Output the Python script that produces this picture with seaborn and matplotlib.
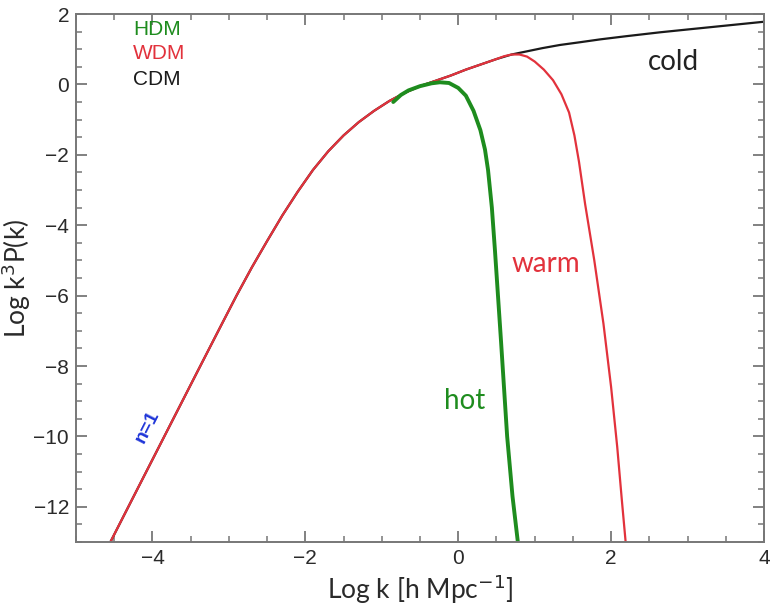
import numpy as np
import pandas as pd
import matplotlib
matplotlib.use("Agg")
import matplotlib.pyplot as plt
from matplotlib.ticker import MultipleLocator
import seaborn as sns

# Log k [h/Mpc] and Log k^3 P(k) for the three dark-matter models
cdm_logk = [-4.55, -4.2, -3.8, -3.4, -3.1, -2.9, -2.7, -2.5, -2.3, -2.1, -1.9,
            -1.7, -1.5, -1.3, -1.1, -0.9, -0.7, -0.5, -0.3, -0.1, 0.1, 0.3,
            0.5, 0.7, 0.9, 1.1, 1.33, 1.6, 1.86, 2.2, 2.64, 3.0, 3.5, 4.0]
cdm_pk = [-13.0, -11.51, -9.81, -8.11, -6.84, -6.0, -5.2, -4.45, -3.72, -3.05,
          -2.43, -1.9, -1.45, -1.07, -0.75, -0.47, -0.24, -0.05, 0.1, 0.25,
          0.42, 0.57, 0.72, 0.85, 0.94, 1.03, 1.12, 1.2, 1.28, 1.37, 1.48,
          1.56, 1.67, 1.78]

wdm_logk = [-4.55, -4.2, -3.8, -3.4, -3.1, -2.9, -2.7, -2.5, -2.3, -2.1, -1.9,
            -1.7, -1.5, -1.3, -1.1, -0.9, -0.7, -0.5, -0.3, -0.1, 0.1, 0.3,
            0.5, 0.6, 0.7, 0.8, 0.9, 1.0, 1.12, 1.24, 1.35, 1.45, 1.52, 1.58,
            1.66, 1.78, 1.9, 2.0, 2.08, 2.14, 2.19]
wdm_pk = [-13.0, -11.51, -9.81, -8.11, -6.84, -6.0, -5.2, -4.45, -3.72, -3.05,
          -2.43, -1.9, -1.45, -1.07, -0.75, -0.47, -0.24, -0.05, 0.1, 0.25,
          0.42, 0.57, 0.72, 0.8, 0.85, 0.85, 0.79, 0.65, 0.42, 0.12, -0.28,
          -0.8, -1.45, -2.2, -3.4, -5.0, -6.8, -8.6, -10.3, -11.8, -13.0]

hdm_logk = [-0.85, -0.75, -0.65, -0.5, -0.35, -0.24, -0.12, 0.0, 0.1, 0.2,
            0.29, 0.35, 0.39, 0.44, 0.48, 0.56, 0.64, 0.71, 0.78]
hdm_pk = [-0.5, -0.3, -0.17, -0.05, 0.03, 0.06, 0.04, -0.1, -0.32, -0.75,
          -1.3, -1.85, -2.43, -3.5, -4.7, -7.3, -10.0, -11.7, -13.0]

GREEN = "#1e8c1e"
RED = "#e2323c"
BLACK = "#1a1a1a"

sns.set_theme(style="ticks")
plt.rcParams["font.family"] = ["Liberation Sans", "DejaVu Sans"]

fig = plt.figure(figsize=(7.72, 6.09), dpi=100)
ax = fig.add_axes([76 / 772, 1 - 542 / 609, 688 / 772, 528 / 609])

cdm = pd.DataFrame({"logk": cdm_logk, "pk": cdm_pk})
wdm = pd.DataFrame({"logk": wdm_logk, "pk": wdm_pk})
hdm = pd.DataFrame({"logk": hdm_logk, "pk": hdm_pk})

sns.lineplot(data=cdm, x="logk", y="pk", ax=ax, color=BLACK, lw=1.6,
             sort=False, estimator=None)
sns.lineplot(data=wdm, x="logk", y="pk", ax=ax, color=RED, lw=1.6,
             sort=False, estimator=None)
sns.lineplot(data=hdm, x="logk", y="pk", ax=ax, color=GREEN, lw=2.8,
             sort=False, estimator=None)

ax.set_xlim(-5, 4)
ax.set_ylim(-13, 2)
ax.xaxis.set_major_locator(MultipleLocator(2))
ax.xaxis.set_minor_locator(MultipleLocator(0.5))
ax.yaxis.set_major_locator(MultipleLocator(2))
ax.yaxis.set_minor_locator(MultipleLocator(0.5))
ax.tick_params(which="both", direction="in", top=True, right=True,
               color="#777777", labelcolor="#2a2a2a", labelsize=15, pad=5)
ax.tick_params(which="major", length=8, width=1.3)
ax.tick_params(which="minor", length=4.5, width=1.1)
for s in ax.spines.values():
    s.set_color("#777777")
    s.set_linewidth(1.4)

label_font = ["Lato", "DejaVu Sans"]
ax.set_xlabel("Log k [h Mpc$^{-1}$]", fontsize=19, family=label_font,
              color="#2a2a2a", labelpad=3)
ax.set_ylabel("Log k$^3$P(k)", fontsize=19, family=label_font,
              color="#2a2a2a", labelpad=0)

# legend-style model names
ax.text(-4.25, 1.55, "HDM", color=GREEN, fontsize=15, va="center", ha="left")
ax.text(-4.25, 0.89, "WDM", color=RED, fontsize=15, va="center", ha="left")
ax.text(-4.25, 0.13, "CDM", color=BLACK, fontsize=15, va="center", ha="left")

# curve annotations
ax.text(2.81, 0.64, "cold", color="#222222", fontsize=20, family=label_font,
        ha="center", va="center")
ax.text(1.14, -5.1, "warm", color=RED, fontsize=20, family=label_font,
        ha="center", va="center")
ax.text(0.09, -9.0, "hot", color=GREEN, fontsize=20, family=label_font,
        ha="center", va="center")
ax.text(-4.06, -9.73, "n=1", color="#1f35d8", fontsize=14, fontweight="bold",
        rotation=63, ha="center", va="center")

fig.savefig("out.png", dpi=100)
